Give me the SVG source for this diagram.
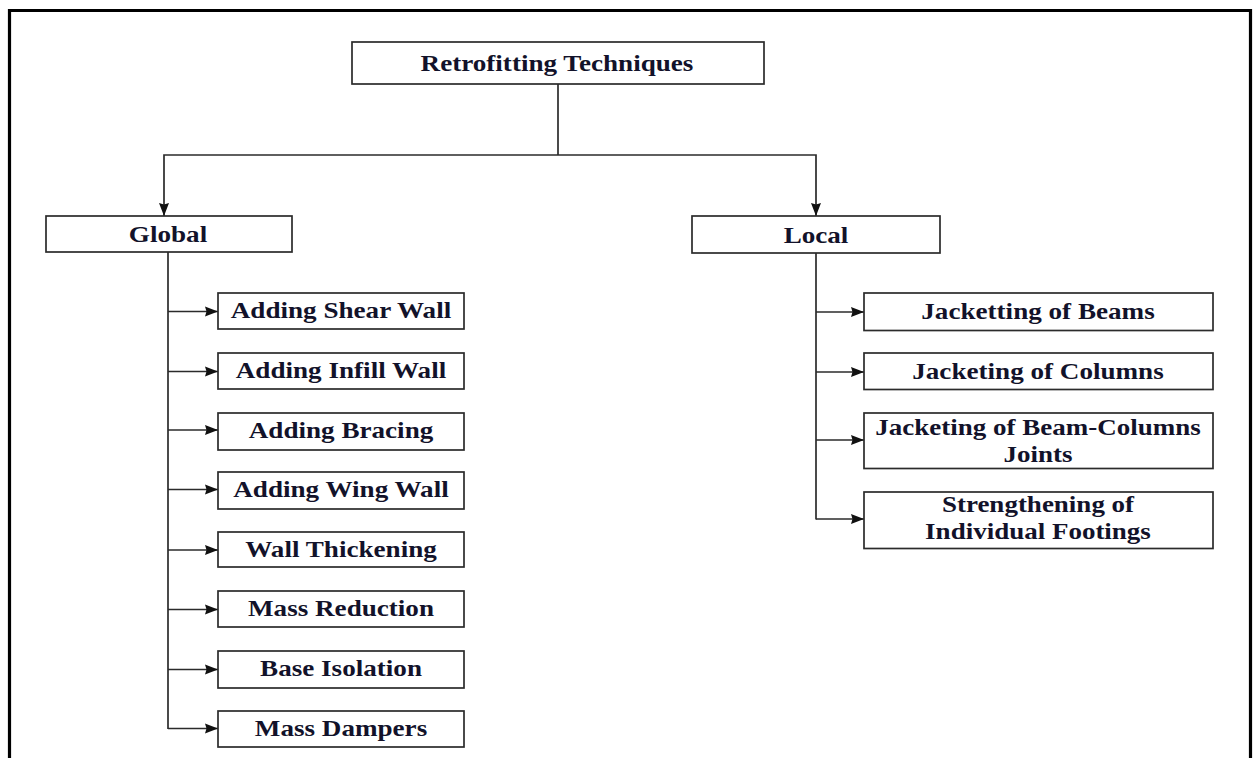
<svg xmlns="http://www.w3.org/2000/svg" width="1255" height="758" viewBox="0 0 1255 758">
<style>
.box{fill:#ffffff;stroke:#2b2b2b;stroke-width:1.7}
.lbl{font-family:"Liberation Serif","Times New Roman",serif;font-weight:bold;font-size:24px;fill:#12122a;text-anchor:middle}
.lbl2{font-family:"Liberation Serif","Times New Roman",serif;font-weight:bold;font-size:22.5px;fill:#12122a;text-anchor:middle}
.con{fill:none;stroke:#2b2b2b;stroke-width:1.7}
.arr{marker-end:url(#ah)}
</style>
<defs>
<marker id="ah" markerUnits="userSpaceOnUse" markerWidth="14" markerHeight="11" refX="13" refY="5.5" orient="auto">
<path d="M0,0.5 L13,5.5 L0,10.5 L1.5,5.5 z" fill="#111"/>
</marker>
</defs>
<rect x="0" y="0" width="1255" height="758" fill="#ffffff"/>
<path d="M9.5,758 V10.5 H1250.5 V758" fill="none" stroke="#000" stroke-width="3.2"/>

<g id="connectors">
<path class="con" d="M558,84 V155"/>
<path class="con arr" d="M558,155 H164 V216"/>
<path class="con arr" d="M558,155 H816 V216"/>
<path class="con" d="M168,252 V729"/>
<path class="con arr" d="M168,311.5 H218"/>
<path class="con arr" d="M168,371.5 H218"/>
<path class="con arr" d="M168,430 H218"/>
<path class="con arr" d="M168,489.5 H218"/>
<path class="con arr" d="M168,550 H218"/>
<path class="con arr" d="M168,609.5 H218"/>
<path class="con arr" d="M168,669.5 H218"/>
<path class="con arr" d="M168,728.5 H218"/>
<path class="con" d="M816,253 V519.5"/>
<path class="con arr" d="M816,312 H864"/>
<path class="con arr" d="M816,372 H864"/>
<path class="con arr" d="M816,440 H864"/>
<path class="con arr" d="M816,519 H864"/>
</g>

<g id="root">
<rect class="box" x="352" y="42" width="412" height="42"/>
<text class="lbl" transform="translate(557,71) scale(1.13,1)">Retrofitting Techniques</text>
</g>
<g id="global">
<rect class="box" x="46" y="216" width="246" height="36"/>
<text class="lbl" transform="translate(168,242) scale(1.13,1)">Global</text>
</g>
<g id="local">
<rect class="box" x="692" y="216" width="248" height="37"/>
<text class="lbl" transform="translate(816,243) scale(1.13,1)">Local</text>
</g>

<g id="g1"><rect class="box" x="218" y="293" width="246" height="36"/><text class="lbl" transform="translate(341,318) scale(1.13,1)">Adding Shear Wall</text></g>
<g id="g2"><rect class="box" x="218" y="353" width="246" height="36"/><text class="lbl" transform="translate(341,378) scale(1.13,1)">Adding Infill Wall</text></g>
<g id="g3"><rect class="box" x="218" y="413" width="246" height="37"/><text class="lbl" transform="translate(341,438) scale(1.13,1)">Adding Bracing</text></g>
<g id="g4"><rect class="box" x="218" y="472" width="246" height="37"/><text class="lbl" transform="translate(341,497) scale(1.13,1)">Adding Wing Wall</text></g>
<g id="g5"><rect class="box" x="218" y="532" width="246" height="35"/><text class="lbl" transform="translate(341,557) scale(1.13,1)">Wall Thickening</text></g>
<g id="g6"><rect class="box" x="218" y="591" width="246" height="36"/><text class="lbl" transform="translate(341,616) scale(1.13,1)">Mass Reduction</text></g>
<g id="g7"><rect class="box" x="218" y="651" width="246" height="37"/><text class="lbl" transform="translate(341,676) scale(1.13,1)">Base Isolation</text></g>
<g id="g8"><rect class="box" x="218" y="711" width="246" height="36"/><text class="lbl" transform="translate(341,736) scale(1.13,1)">Mass Dampers</text></g>

<g id="l1"><rect class="box" x="864" y="293" width="349" height="37.5"/><text class="lbl" transform="translate(1038,319) scale(1.13,1)">Jacketting of Beams</text></g>
<g id="l2"><rect class="box" x="864" y="353" width="349" height="36.5"/><text class="lbl" transform="translate(1038,379) scale(1.13,1)">Jacketing of Columns</text></g>
<g id="l3"><rect class="box" x="864" y="413" width="349" height="55.5"/><text class="lbl2" transform="translate(1038,435) scale(1.2,1)">Jacketing of Beam-Columns</text><text class="lbl2" transform="translate(1038,461.5) scale(1.2,1)">Joints</text></g>
<g id="l4"><rect class="box" x="864" y="492" width="349" height="56.5"/><text class="lbl2" transform="translate(1038,512) scale(1.2,1)">Strengthening of</text><text class="lbl2" transform="translate(1038,538.5) scale(1.2,1)">Individual Footings</text></g>
</svg>
